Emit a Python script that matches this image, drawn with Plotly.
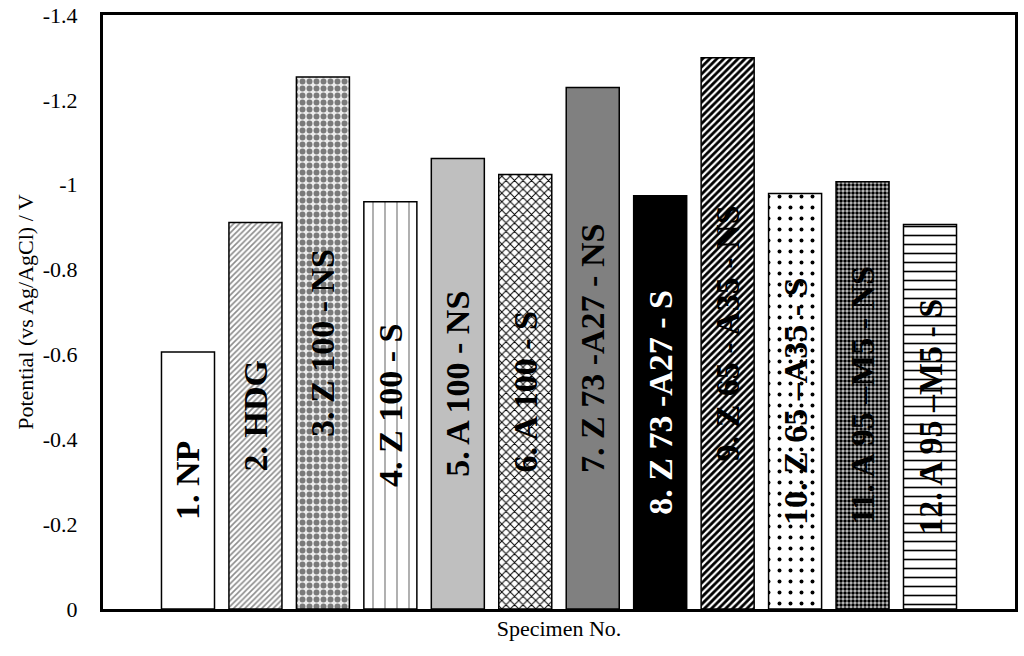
import plotly.graph_objects as go

SPECIMENS = ["1. NP", "2. HDG", "3. Z 100 - NS", "4. Z 100 - S", "5. A 100 - NS",
             "6. A 100 - S", "7. Z 73 -A27 - NS", "8. Z 73 -A27 - S",
             "9. Z 65 - A35 - NS", "10. Z 65 \u2013A35 - S", "11. A 95 \u2013M5 - NS",
             "12. A 95 \u2013M5 - S"]
POTENTIAL = [-0.606, -0.911, -1.254, -0.960, -1.062, -1.024, -1.229, -0.974,
             -1.299, -0.979, -1.007, -0.906]

# fill style for each bar (pattern shape, fg, bg, size, solidity)
SHAPES = ["", "/", ".", "|", "", "x", "", "", "/", ".", ".", "-"]
FG = ["black", "#8c8c8c", "#7a7a7a", "#a8a8a8", "black", "black", "black", "black",
      "black", "black", "black", "black"]
BG = ["white", "white", "#ececec", "white", "#bfbfbf", "white", "#808080", "black",
      "white", "white", "#c8c8c8", "white"]
SIZES = [8, 4, 7, 12, 8, 6, 5, 8, 5, 11, 4, 9]
SOLID = [0.3, 0.4, 0.55, 0.15, 0.3, 0.3, 0.3, 0.3, 0.55, 0.1, 0.6, 0.18]
TEXT_COLORS = ["black"] * 7 + ["white"] + ["black"] * 4

fig = go.Figure()
for i, name in enumerate(SPECIMENS):
    pattern = dict(shape=SHAPES[i], fgcolor=FG[i], bgcolor=BG[i], size=SIZES[i],
                   solidity=SOLID[i], fillmode="replace")
    fig.add_trace(go.Bar(
        x=[i], y=[POTENTIAL[i]], name=name,
        text=[name], textposition="inside", insidetextanchor="middle",
        textangle=-90, constraintext="none",
        textfont=dict(family="Liberation Serif", size=34, color=TEXT_COLORS[i], weight="bold"),
        marker=dict(color=BG[i], line=dict(color="black", width=1.5), pattern=pattern),
        showlegend=False,
    ))

fig.update_layout(
    width=1024, height=656,
    margin=dict(l=103, r=9, t=15, b=47),
    paper_bgcolor="white", plot_bgcolor="white",
    barmode="relative", bargap=0.214,
    font=dict(family="Liberation Serif", size=22, color="black"),
)
fig.update_xaxes(
    range=[-1.26, 12.26], showticklabels=False, ticks="", showgrid=False,
    zeroline=False, showline=True, linecolor="black", linewidth=3, mirror=True,
    automargin=False,
    title=dict(text="Specimen No.", standoff=10, font=dict(size=22)),
)
fig.update_yaxes(
    range=[0, -1.4], tickvals=[0, -0.2, -0.4, -0.6, -0.8, -1, -1.2, -1.4],
    ticktext=["0", "-0.2", "-0.4", "-0.6", "-0.8", "-1", "-1.2", "-1.4"],
    ticks="", ticklabelstandoff=18, ticklabeloverflow="allow",
    showgrid=False, zeroline=False,
    showline=True, linecolor="black", linewidth=3, mirror=True,
    automargin=False, tickfont=dict(size=22),
    title=dict(text="Potential (vs Ag/AgCl) / V", standoff=4, font=dict(size=22)),
)

# drop the default 8px body margin so the figure fills the window exactly
fig.write_html("out.html", config={"displayModeBar": False},
               post_script="document.body.style.margin = '0';")
